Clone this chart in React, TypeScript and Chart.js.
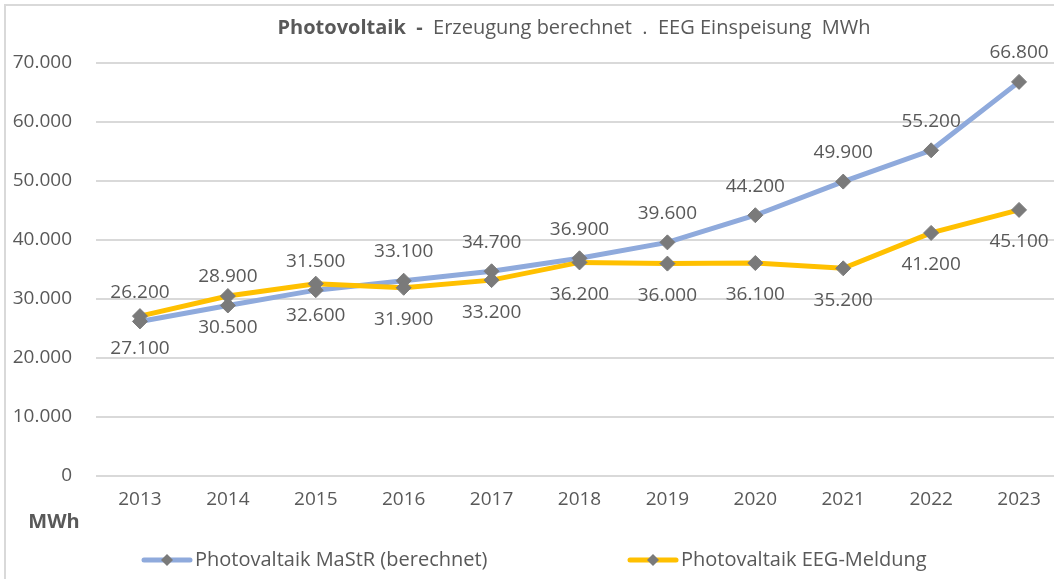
import React, { useEffect, useRef } from 'react';
import { Chart, registerables } from 'chart.js';

Chart.register(...registerables);

const years = ['2013', '2014', '2015', '2016', '2017', '2018', '2019', '2020', '2021', '2022', '2023'];
const mastrValues = [26200, 28900, 31500, 33100, 34700, 36900, 39600, 44200, 49900, 55200, 66800];
const eegValues = [27100, 30500, 32600, 31900, 33200, 36200, 36000, 36100, 35200, 41200, 45100];
const seriesNames = ['Photovaltaik MaStR (berechnet)', 'Photovaltaik EEG-Meldung'];
const titleBold = 'Photovoltaik  -  ';
const titleRest = 'Erzeugung berechnet  .  EEG Einspeisung  MWh';
const unitLabel = 'MWh';
const yMin = 0;
const yMax = 70000;
const yStep = 10000;

const BLUE = '#8faadc';
const YELLOW = '#ffc000';
const MARKER = '#7a7a7a';
const TEXT = '#595959';
const GRID = '#d9d9d9';
const FONT = '"Open Sans", sans-serif';

const fmt = (v: number) => String(v).replace(/\B(?=(\d{3})+(?!\d))/g, '.');

const decorPlugin = {
  id: 'decor',
  beforeDraw(chart: any) {
    const ctx = chart.ctx;
    ctx.save();
    ctx.strokeStyle = GRID;
    ctx.lineWidth = 2;
    ctx.strokeRect(5, 5, 3000, 3000);
    ctx.restore();
  },
  afterDatasetsDraw(chart: any) {
    const ctx = chart.ctx;
    ctx.save();
    ctx.font = `19px ${FONT}`;
    ctx.fillStyle = TEXT;
    ctx.textAlign = 'center';
    ctx.textBaseline = 'middle';
    chart.data.datasets.forEach((ds: any, di: number) => {
      const meta = chart.getDatasetMeta(di);
      const off = di === 0 ? -29 : 32;
      meta.data.forEach((el: any, i: number) => {
        ctx.fillText(fmt(ds.data[i]), el.x, el.y + off);
      });
    });
    ctx.restore();
  },
  afterDraw(chart: any) {
    const ctx = chart.ctx;
    ctx.save();
    ctx.fillStyle = TEXT;
    ctx.textBaseline = 'middle';
    // title
    const bFont = `bold 20px ${FONT}`;
    const rFont = `20px ${FONT}`;
    ctx.font = bFont;
    const wb = ctx.measureText(titleBold).width;
    ctx.font = rFont;
    const wr = ctx.measureText(titleRest).width;
    const x0 = 574 - (wb + wr) / 2;
    ctx.textAlign = 'left';
    ctx.font = bFont;
    ctx.fillText(titleBold, x0, 28);
    ctx.font = rFont;
    ctx.fillText(titleRest, x0 + wb, 28);
    // unit
    ctx.font = `bold 20px ${FONT}`;
    ctx.textAlign = 'center';
    ctx.fillText(unitLabel, 54, 522);
    // legend
    const items = [
      { x: 144, color: BLUE, text: seriesNames[0] },
      { x: 630, color: YELLOW, text: seriesNames[1] },
    ];
    const ly = 560;
    items.forEach((it) => {
      ctx.strokeStyle = it.color;
      ctx.lineWidth = 5;
      ctx.lineCap = 'round';
      ctx.beginPath();
      ctx.moveTo(it.x, ly);
      ctx.lineTo(it.x + 46, ly);
      ctx.stroke();
      ctx.fillStyle = MARKER;
      const cx = it.x + 23;
      const r = 6;
      ctx.beginPath();
      ctx.moveTo(cx - r, ly);
      ctx.lineTo(cx, ly - r);
      ctx.lineTo(cx + r, ly);
      ctx.lineTo(cx, ly + r);
      ctx.closePath();
      ctx.fill();
      ctx.fillStyle = TEXT;
      ctx.font = `20px ${FONT}`;
      ctx.textAlign = 'left';
      ctx.fillText(it.text, it.x + 51, ly);
    });
    ctx.restore();
  },
};

export default function App() {
  const ref = useRef<HTMLCanvasElement>(null);
  useEffect(() => {
    document.body.style.margin = '0';
    document.body.style.overflow = 'hidden';
    const canvas = ref.current!;
    const chart = new Chart(canvas, {
      type: 'line',
      data: {
        labels: years,
        datasets: [
          {
            label: seriesNames[0],
            data: mastrValues,
            borderColor: BLUE,
            backgroundColor: BLUE,
            borderWidth: 5,
            pointStyle: 'rectRot',
            pointRadius: 7.5,
            pointBackgroundColor: MARKER,
            pointBorderColor: MARKER,
            pointBorderWidth: 1,
            tension: 0,
            order: 1,
          },
          {
            label: seriesNames[1],
            data: eegValues,
            borderColor: YELLOW,
            backgroundColor: YELLOW,
            borderWidth: 5,
            pointStyle: 'rectRot',
            pointRadius: 7.5,
            pointBackgroundColor: MARKER,
            pointBorderColor: MARKER,
            pointBorderWidth: 1,
            tension: 0,
            order: 0,
          },
        ],
      },
      options: {
        responsive: false,
        animation: false,
        devicePixelRatio: 1,
        layout: { padding: { top: 63, left: 0, right: 17, bottom: 0 } },
        plugins: {
          legend: { display: false },
          title: { display: false },
          tooltip: { enabled: false },
        },
        scales: {
          x: {
            offset: true,
            grid: { display: false, drawTicks: false },
            border: { display: false },
            ticks: { color: TEXT, font: { family: FONT, size: 19 }, padding: 12 },
            afterFit: (s: any) => {
              s.height = 103;
            },
          },
          y: {
            min: yMin,
            max: yMax,
            ticks: {
              stepSize: yStep,
              color: TEXT,
              font: { family: FONT, size: 19 },
              padding: 24,
              callback: (v: any) => fmt(Number(v)),
            },
            grid: { color: GRID, lineWidth: 2, drawTicks: false },
            border: { display: false },
            afterFit: (s: any) => {
              s.width = 96;
            },
          },
        },
      },
      plugins: [decorPlugin],
    });
    return () => chart.destroy();
  }, []);
  return (
    <div style={{ position: 'fixed', left: 0, top: 0, width: 1080, height: 579, overflow: 'hidden' }}>
      <canvas ref={ref} width={1080} height={579} style={{ display: 'block' }} />
    </div>
  );
}
